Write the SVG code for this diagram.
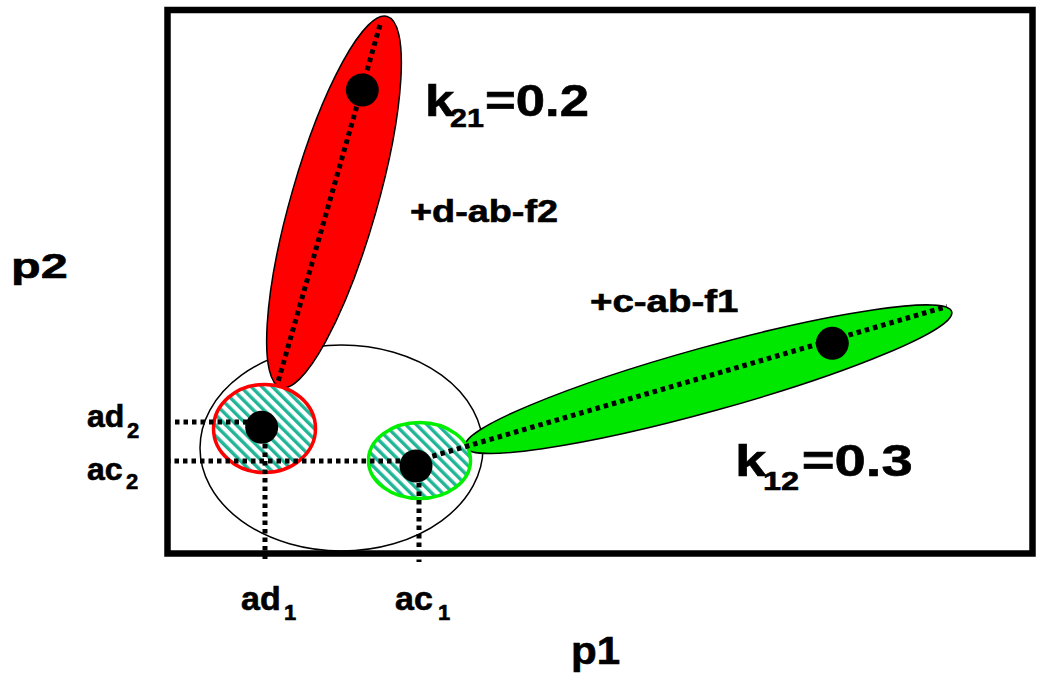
<svg xmlns="http://www.w3.org/2000/svg" width="1039" height="683" viewBox="0 0 1039 683">
<style>
.t{font-family:"Liberation Sans",Arial,sans-serif;font-weight:bold;fill:#000;stroke:#000;stroke-width:0.6}
.dot{fill:#000}
.dl{stroke:#000;stroke-width:5;stroke-dasharray:4.5 4;fill:none}
.lobe{stroke:#000;stroke-width:1.5}
</style>
<defs>
<pattern id="hatch" patternUnits="userSpaceOnUse" width="7.5" height="7.5" patternTransform="rotate(-45)">
<rect width="7.5" height="7.5" fill="#fff"/>
<rect width="3.4" height="7.5" fill="#1fb596"/>
</pattern>
</defs>
<rect x="0" y="0" width="1039" height="683" fill="#fff"/>
<g id="frame">
<rect x="167.5" y="10" width="865" height="543.5" fill="none" stroke="#000" stroke-width="6.5"/>
</g>
<g id="cluster">
<ellipse cx="341.5" cy="448" rx="141.5" ry="103" fill="none" stroke="#000" stroke-width="1.5"/>
</g>
<g id="red-lobe">
<ellipse cx="334" cy="202" rx="193" ry="43" transform="rotate(-74 334 202)" fill="#ff0000" class="lobe"/>
</g>
<g id="green-lobe">
<ellipse cx="708.4" cy="379.2" rx="252.5" ry="32" transform="rotate(-15.5 708.4 379.2)" fill="#00e800" class="lobe"/>
</g>
<g id="ad-node">
<ellipse cx="264.5" cy="428.5" rx="51" ry="44" fill="url(#hatch)" stroke="#ff0000" stroke-width="3.5"/>
</g>
<g id="ac-node">
<ellipse cx="419.5" cy="460.5" rx="51" ry="38" fill="url(#hatch)" stroke="#00f000" stroke-width="3.5"/>
</g>
<g id="connectors">
<line class="dl" x1="175" y1="422" x2="262" y2="422"/>
<line class="dl" x1="166" y1="461" x2="416" y2="461"/>
<line class="dl" x1="265" y1="427" x2="265" y2="562"/>
<line class="dl" x1="419" y1="466" x2="419" y2="562"/>
<line class="dl" x1="380" y1="25" x2="278" y2="382"/>
<line class="dl" x1="416" y1="461" x2="947" y2="306.5"/>
</g>
<g id="points">
<circle class="dot" cx="261.7" cy="427.3" r="16.5"/>
<circle class="dot" cx="416" cy="466" r="16.5"/>
<circle class="dot" cx="362.3" cy="90" r="16.5"/>
<circle class="dot" cx="832.3" cy="343.3" r="16.5"/>
</g>
<g id="labels">
<text class="t" font-size="45" transform="translate(425,116) scale(1.17,1)"><tspan x="0" y="0">k</tspan><tspan x="21.4" y="11" font-size="26">21</tspan><tspan x="51.3" y="0">=0.2</tspan></text>
<text class="t" font-size="45" transform="translate(735,476) scale(1.25,1)"><tspan x="0" y="0">k</tspan><tspan x="22.4" y="14" font-size="26">12</tspan><tspan x="53.4" y="0">=0.3</tspan></text>
<text class="t" font-size="31" transform="translate(410,222) scale(1.22,1)">+d-ab-f2</text>
<text class="t" font-size="31" transform="translate(590,312) scale(1.24,1)">+c-ab-f1</text>
<text class="t" font-size="36" transform="translate(11,278) scale(1.35,1)">p2</text>
<text class="t" font-size="39" transform="translate(571,664) scale(1.08,1)">p1</text>
<text class="t" font-size="32" x="87" y="427">ad<tspan x="127" y="438" font-size="22">2</tspan></text>
<text class="t" font-size="32" x="87" y="480">ac<tspan x="126" y="489" font-size="22">2</tspan></text>
<text class="t" font-size="34" x="241" y="610">ad<tspan x="284" y="620" font-size="22">1</tspan></text>
<text class="t" font-size="34" x="395" y="610">ac<tspan x="438" y="620" font-size="22">1</tspan></text>
</g>
</svg>
